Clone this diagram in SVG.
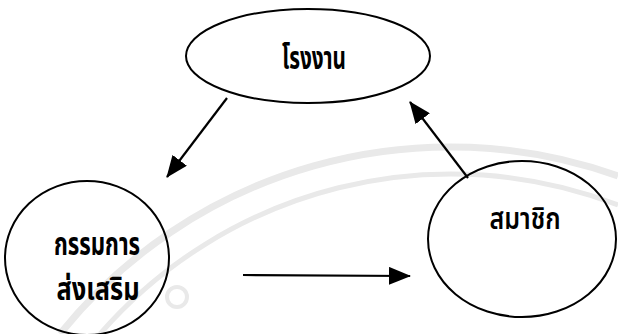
<svg xmlns="http://www.w3.org/2000/svg" width="618" height="334" viewBox="0 0 618 334">
  <style>
    .node { fill: none; stroke: #000; stroke-width: 2; }
    .label { font-family: "Noto Sans Thai", "Noto Sans", "DejaVu Sans", sans-serif; font-size: 21px; font-weight: bold; fill: #000; text-anchor: middle; }
    .medium { font-weight: 600; }
    .edge { stroke: #000; stroke-width: 2.2; fill: none; marker-end: url(#arrow); }
    .wm { fill: none; stroke: #e9e9e9; }
  </style>
  <defs>
    <marker id="arrow" viewBox="0 0 22 18" refX="21" refY="9" markerWidth="22" markerHeight="18" markerUnits="userSpaceOnUse" orient="auto">
      <path d="M0,0 L22,9 L0,18 Z" fill="#000"/>
    </marker>
  </defs>
  <rect width="618" height="334" fill="#fff"/>

  <!-- faint background seal -->
  <g id="seal">
    <path class="wm" stroke-width="7" d="M60,334 A500,500 0 0 1 618,176"/>
    <path class="wm" stroke-width="5" d="M100,334 A465,465 0 0 1 618,205"/>
    <circle class="wm" stroke-width="4" cx="177" cy="297" r="10"/>
  </g>

  <g id="connectors">
    <line class="edge" x1="227" y1="98" x2="167" y2="177"/>
    <line class="edge" x1="243" y1="275" x2="410" y2="276"/>
    <line class="edge" x1="468" y1="178" x2="410" y2="102"/>
  </g>

  <!-- labels are set in a tall, narrow cut: stretched vertically about their baseline -->
  <g id="factory">
    <ellipse class="node" cx="308" cy="56" rx="122" ry="47"/>
    <text class="label" transform="translate(314,69) scale(1,1.5)" textLength="64" lengthAdjust="spacingAndGlyphs">โรงงาน</text>
  </g>

  <g id="committee">
    <ellipse class="node" cx="87" cy="258" rx="82" ry="77"/>
    <text class="label" transform="translate(97,255) scale(1,1.5)" textLength="86" lengthAdjust="spacingAndGlyphs">กรรมการ</text>
    <text class="label" transform="translate(98,300) scale(1,1.5)" textLength="83" lengthAdjust="spacingAndGlyphs">ส่งเสริม</text>
  </g>

  <g id="members">
    <ellipse class="node" cx="522" cy="239" rx="94" ry="78"/>
    <text class="label medium" transform="translate(525,229) scale(1,1.4)" textLength="71" lengthAdjust="spacingAndGlyphs">สมาชิก</text>
  </g>
</svg>
